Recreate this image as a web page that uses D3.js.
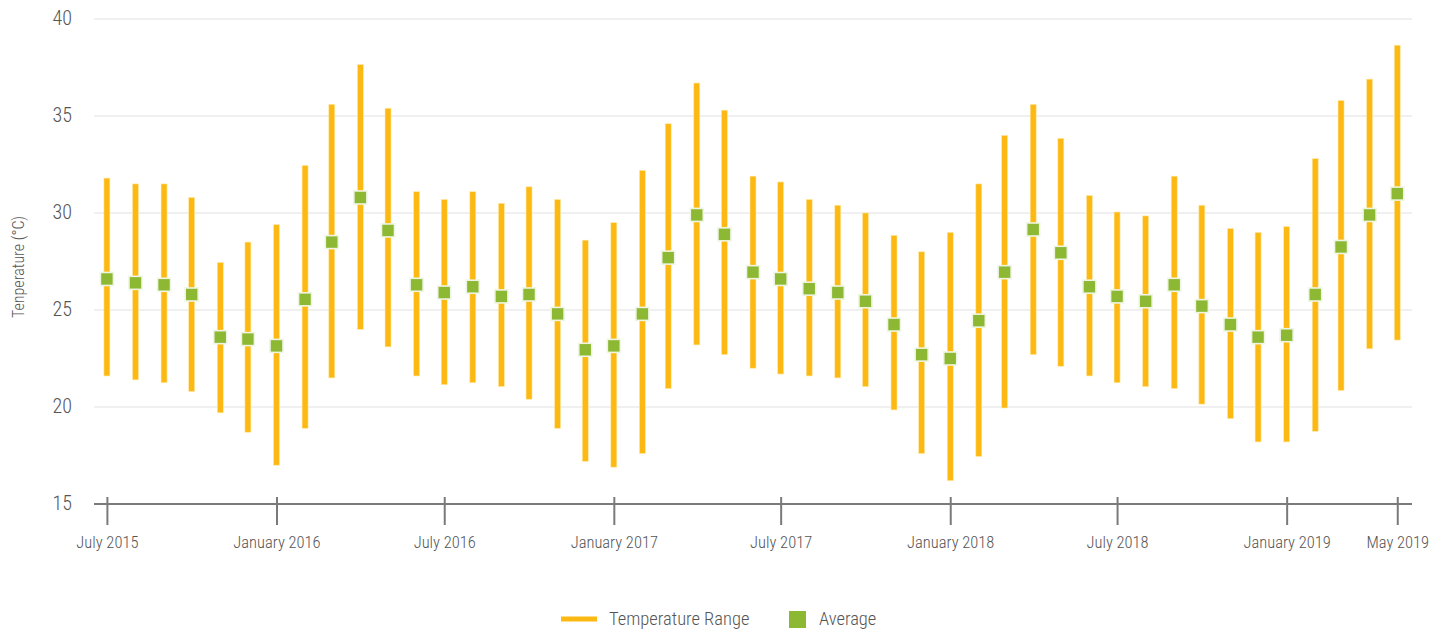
<!DOCTYPE html>
<html>
<head>
<meta charset="utf-8">
<script src="https://cdn.jsdelivr.net/npm/d3@7"></script>
<style>
  html, body { margin: 0; padding: 0; background: #fff; }
  svg { display: block; }
  text { font-family: "Roboto Condensed", "Liberation Sans Narrow", "DejaVu Sans Condensed", Roboto, sans-serif; fill: #555; font-weight: 300; }
</style>
</head>
<body>
<svg id="chart" width="1447" height="633"></svg>
<script>
const months = ["2015-07","2015-08","2015-09","2015-10","2015-11","2015-12",
  "2016-01","2016-02","2016-03","2016-04","2016-05","2016-06","2016-07","2016-08","2016-09","2016-10","2016-11","2016-12",
  "2017-01","2017-02","2017-03","2017-04","2017-05","2017-06","2017-07","2017-08","2017-09","2017-10","2017-11","2017-12",
  "2018-01","2018-02","2018-03","2018-04","2018-05","2018-06","2018-07","2018-08","2018-09","2018-10","2018-11","2018-12",
  "2019-01","2019-02","2019-03","2019-04","2019-05"];
const highs = [31.8,31.5,31.5,30.8,27.45,28.5,
  29.4,32.45,35.6,37.65,35.4,31.1,30.7,31.1,30.5,31.35,30.7,28.6,
  29.5,32.2,34.6,36.7,35.3,31.9,31.6,30.7,30.4,30.0,28.85,28.0,
  29.0,31.5,34.0,35.6,33.85,30.9,30.05,29.85,31.9,30.4,29.2,29.0,
  29.3,32.8,35.8,36.9,38.65];
const averages = [26.6,26.4,26.3,25.8,23.6,23.5,
  23.15,25.55,28.5,30.8,29.1,26.3,25.9,26.2,25.7,25.8,24.8,22.95,
  23.15,24.8,27.7,29.9,28.9,26.95,26.6,26.1,25.9,25.45,24.25,22.7,
  22.5,24.45,26.95,29.15,27.95,26.2,25.7,25.45,26.3,25.2,24.25,23.6,
  23.7,25.8,28.25,29.9,31.0];
const lows = [21.6,21.4,21.25,20.8,19.7,18.7,
  17.0,18.9,21.5,24.0,23.1,21.6,21.15,21.25,21.05,20.4,18.9,17.2,
  16.9,17.6,20.95,23.2,22.7,22.0,21.7,21.6,21.5,21.05,19.85,17.6,
  16.2,17.45,19.95,22.7,22.1,21.6,21.25,21.05,20.95,20.15,19.4,18.2,
  18.2,18.75,20.85,23.0,23.45];
const xTicks = ["2015-07","2016-01","2016-07","2017-01","2017-07","2018-01","2018-07","2019-01","2019-05"];
const yTicks = [15,20,25,30,35,40];
const yLabel = "Tenperature (°C)";
const legendLabels = ["Temperature Range","Average"];

const parse = d3.timeParse("%Y-%m");
const data = months.map((m,i)=>({date: parse(m), hi: highs[i], avg: averages[i], lo: lows[i]}));

const orange = "#FDB913", green = "#8DB834", axisGrey = "#7a7a7a";
const svg = d3.select("#chart");
const x = d3.scaleTime()
  .domain([d3.timeDay.offset(parse("2015-07"), -14), d3.timeDay.offset(parse("2019-05"), 16)])
  .range([94, 1412]);
const y = d3.scaleLinear().domain([15,40]).range([504,19]);

// gridlines
svg.append("g").selectAll("line").data(yTicks.filter(t=>t>15)).join("line")
  .attr("x1", 94).attr("x2", 1412)
  .attr("y1", d=>y(d)).attr("y2", d=>y(d))
  .attr("stroke", "#ebebeb").attr("stroke-width", 1.5);

// y labels
svg.append("g").selectAll("text").data(yTicks).join("text")
  .attr("x", 72).attr("y", d=>y(d)).attr("dy", "0.3em")
  .attr("text-anchor", "end").attr("font-size", 20)
  .text(d=>d);

// y axis title
svg.append("text")
  .attr("transform", "translate(24,267) rotate(-90)")
  .attr("text-anchor", "middle").attr("font-size", 16)
  .text(yLabel);

// x axis
const xAxis = d3.axisBottom(x)
  .tickValues(xTicks.map(parse))
  .tickFormat(d3.timeFormat("%B %Y"))
  .tickSize(21).tickPadding(11);
const gx = svg.append("g").attr("transform", "translate(0,504)").call(xAxis);
gx.select(".domain").attr("d", "M94,0H1412").attr("stroke", axisGrey).attr("stroke-width", 2);
gx.selectAll(".tick line").attr("y1", -7).attr("stroke", axisGrey).attr("stroke-width", 2);
gx.selectAll(".tick text").attr("font-size", 16.5).attr("fill", "#555")
  .style("font-family", "'Roboto Condensed', 'Liberation Sans Narrow', 'DejaVu Sans Condensed', Roboto, sans-serif")
  .style("font-weight", 300);

// range bars
svg.append("g").selectAll("rect").data(data).join("rect")
  .attr("x", d=>x(d.date)-3).attr("width", 6)
  .attr("y", d=>y(d.hi)).attr("height", d=>y(d.lo)-y(d.hi))
  .attr("fill", orange).attr("stroke", "#FFE9A8").attr("stroke-width", 0.6);

// average markers
svg.append("g").selectAll("rect").data(data).join("rect")
  .attr("x", d=>x(d.date)-6.5).attr("y", d=>y(d.avg)-6.5)
  .attr("width", 13).attr("height", 13)
  .attr("fill", green).attr("stroke", "#EEF5E2").attr("stroke-width", 1.6);

// legend
const lg = svg.append("g");
lg.append("line").attr("x1", 561).attr("x2", 597).attr("y1", 619).attr("y2", 619)
  .attr("stroke", orange).attr("stroke-width", 5);
lg.append("text").attr("x", 609).attr("y", 619).attr("dy", "0.35em").attr("font-size", 18.5).text(legendLabels[0]);
lg.append("rect").attr("x", 789).attr("y", 611).attr("width", 17).attr("height", 17).attr("fill", green);
lg.append("text").attr("x", 819).attr("y", 619).attr("dy", "0.35em").attr("font-size", 18.5).text(legendLabels[1]);
</script>
</body>
</html>
